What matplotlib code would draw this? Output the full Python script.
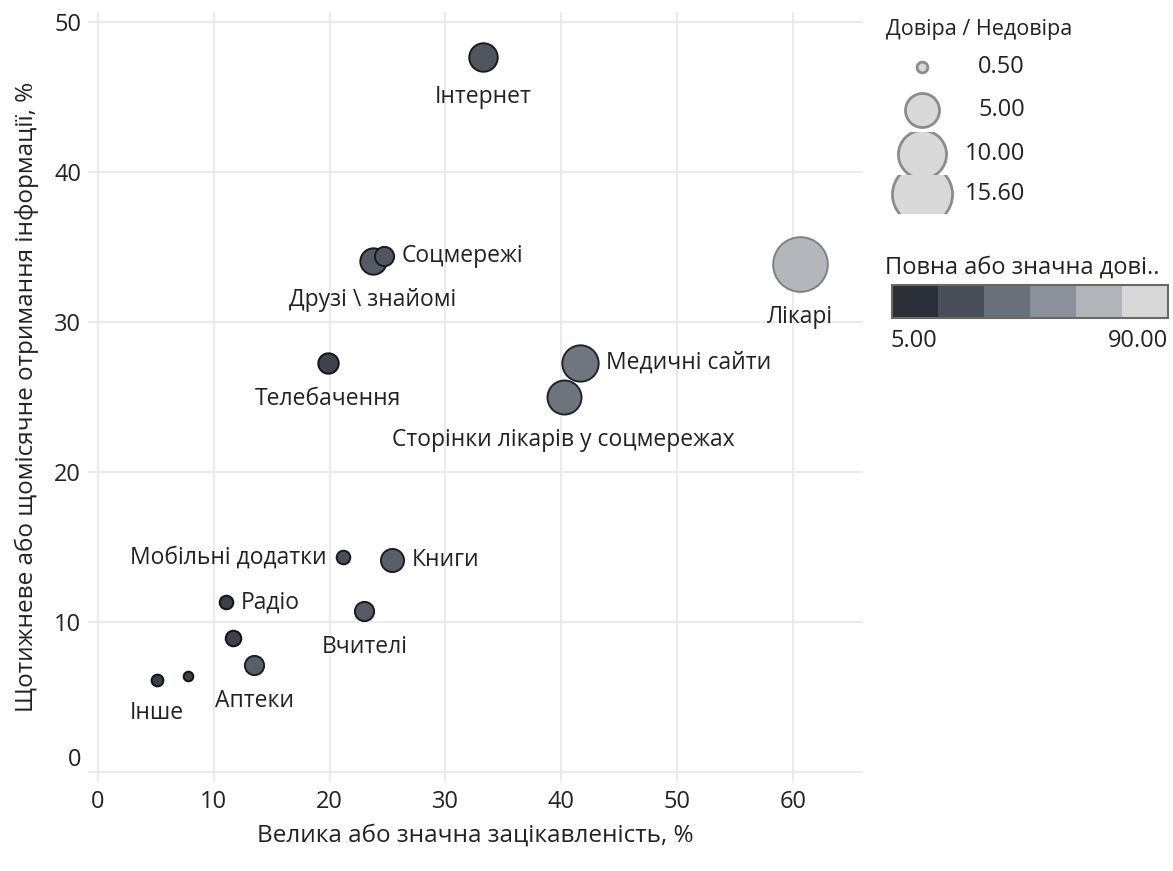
import numpy as np
import matplotlib
matplotlib.use('Agg')
import matplotlib.pyplot as plt
from matplotlib.colors import LinearSegmentedColormap, Normalize
from matplotlib.patches import Rectangle

# дані: джерела інформації
names = ['Інтернет', 'Соцмережі', 'Друзі \\ знайомі', 'Телебачення', 'Лікарі',
         'Медичні сайти', 'Сторінки лікарів у соцмережах', 'Мобільні додатки',
         'Книги', 'Радіо', 'Вчителі', '', 'Аптеки', 'Інше', '']
interest = [33.25, 24.7, 23.75, 19.85, 60.6, 41.6, 40.2, 21.2, 25.4, 11.05,
            23.0, 11.65, 13.5, 5.1, 7.8]
monthly = [47.7, 34.4, 34.1, 27.3, 33.9, 27.3, 25.0, 14.3, 14.1, 11.3,
           10.7, 8.9, 7.1, 6.1, 6.4]
ratio = [3.5, 1.6, 3.0, 1.8, 12.9, 5.7, 5.0, 0.8, 2.3, 0.8, 1.6, 1.05, 1.6, 0.6, 0.4]
trust = [29, 29, 31, 21, 70, 43, 42, 26, 33, 19, 31, 20, 33, 19, 19]
label_pos = ['below', 'right', 'below', 'below', 'below', 'right', 'below', 'left',
             'right', 'right', 'below', None, 'below', 'below', None]

size_legend = [0.5, 5.0, 10.0, 15.6]
trust_min, trust_max, trust_steps = 5, 90, 6

xticks = [0, 10, 20, 30, 40, 50, 60]
yticks = [0, 10, 20, 30, 40, 50]

plt.rcParams['font.family'] = ['Open Sans', 'DejaVu Sans']
TXT = '#222222'
W, H = 1173, 871
FS = 16.5

# сіра шкала
step_cols = ['#2b2f37', '#4a4f59', '#6a707a', '#8c9199', '#b0b3b8', '#d8d8d8']
pos = [(i + 0.5) / trust_steps for i in range(trust_steps)]
cmap = LinearSegmentedColormap.from_list(
    'greys', [(0, step_cols[0])] + list(zip(pos, step_cols)) + [(1, step_cols[-1])])
norm = Normalize(trust_min, trust_max)


def size_of(v):
    return 120 * np.asarray(v)


fig = plt.figure(figsize=(W / 100, H / 100), dpi=100)
ax = fig.add_axes([88 / W, (H - 782) / H, (863 - 88) / W, (782 - 12) / H])
ax.set_xlim(-0.86, 66.06)
ax.set_ylim(-0.67, 50.67)
for s in ax.spines.values():
    s.set_visible(False)
ax.set_xticks(xticks)
ax.set_yticks(yticks)
ax.grid(True, color='#ebebeb', lw=1.5)
ax.set_axisbelow(True)
ax.tick_params(length=0, labelsize=17, labelcolor=TXT)
ax.tick_params(axis='x', pad=6)
ax.tick_params(axis='y', pad=5)
for lbl in ax.get_yticklabels():
    if lbl.get_text() == '0':
        lbl.set_va('bottom')

order = np.argsort(ratio)[::-1]
for i in order:
    fc = np.array(cmap(norm(trust[i]))[:3])
    ec = fc * (0.3 if trust[i] < 60 else 0.7)
    ax.scatter(interest[i], monthly[i], s=size_of(ratio[i]), color=fc,
               edgecolor=ec, linewidth=1.4, zorder=3)

for i, name in enumerate(names):
    if not label_pos[i]:
        continue
    r = np.sqrt(size_of(ratio[i])) / 2
    if label_pos[i] == 'below':
        off, ha = (0, -(r + 19)), 'center'
    elif label_pos[i] == 'right':
        off, ha = (r + 6, 0), 'left'
    else:
        off, ha = (-(r + 7.5), 0), 'right'
    ax.annotate(name, (interest[i], monthly[i]), xytext=off, textcoords='offset points',
                ha=ha, va='center', fontsize=FS, color=TXT, zorder=4)

ax.set_xlabel('Велика або значна зацікавленість, %', fontsize=17.5, color=TXT, labelpad=7)
ax.set_ylabel('Щотижневе або щомісячне отримання інформації, %', fontsize=17.5,
              color=TXT, labelpad=11)

# легенди
lax = fig.add_axes([0, 0, 1, 1])
lax.set_xlim(0, W)
lax.set_ylim(H, 0)
lax.axis('off')

lax.text(886, 30, 'Довіра / Недовіра', fontsize=15.5, color=TXT, va='center', ha='left')
row_y = [67, 110, 154, 194]
bands = [(48, 88), (88, 132), (132, 175), (175, 213)]
for v, y, (b0, b1) in zip(size_legend, row_y, bands):
    sc = lax.scatter(922, y, s=size_of(v), color='#d9d9d9', edgecolor='#8c8c8c', linewidth=2)
    clip = Rectangle((880, b0), 90, b1 - b0, transform=lax.transData)
    sc.set_clip_path(clip)
    lax.text(1025, y, f'{v:.2f}', fontsize=17, color=TXT, va='center', ha='right')

lax.text(885, 268, 'Повна або значна дові..', fontsize=17, color=TXT, va='center', ha='left')
x0, x1, y0, y1 = 892, 1168, 285, 318
cw = (x1 - x0) / trust_steps
edges = np.linspace(trust_min, trust_max, trust_steps + 1)
for k in range(trust_steps):
    mid = (edges[k] + edges[k + 1]) / 2
    lax.add_patch(Rectangle((x0 + k * cw, y0), cw, y1 - y0, facecolor=cmap(norm(mid)),
                            edgecolor='none'))
lax.add_patch(Rectangle((x0, y0), x1 - x0, y1 - y0, facecolor='none',
                        edgecolor='#6b6a5e', linewidth=1.5))
lax.text(x0 - 2, 341, f'{trust_min:.2f}', fontsize=17, color=TXT, va='center', ha='left')
lax.text(x1, 341, f'{trust_max:.2f}', fontsize=17, color=TXT, va='center', ha='right')

fig.savefig('out.png', dpi=100)
